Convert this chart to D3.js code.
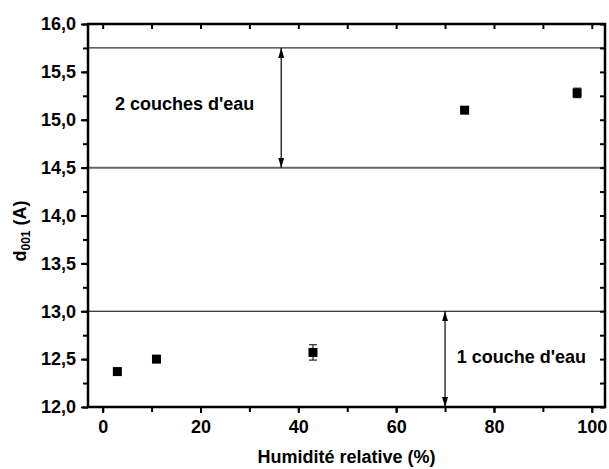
<!DOCTYPE html>
<html><head><meta charset="utf-8">
<script src="https://cdn.jsdelivr.net/npm/d3@7"></script>
<style>
html,body{margin:0;padding:0;background:#fff;}
svg text{font-family:"Liberation Sans",Arial,sans-serif !important;font-weight:700 !important;}
</style>
</head><body>
<svg id="chart" width="609" height="469"></svg>
<script>
const humidity = [3, 11, 43, 74, 97];
const d001 = [12.37, 12.50, 12.57, 15.10, 15.28];
const d001Err = [0.01, 0.03, 0.08, 0.01, 0.05];
const xTicks = [0, 20, 40, 60, 80, 100];
const yTicks = [12.0, 12.5, 13.0, 13.5, 14.0, 14.5, 15.0, 15.5, 16.0];
const refLines = [15.75, 14.5, 13.0];
const arrows = [{x: 36.5, y1: 15.75, y2: 14.5}, {x: 70, y1: 13.0, y2: 12.0}];
const notes = [{text: "2 couches d'eau", x: 2.5, y: 15.10}, {text: "1 couche d'eau", x: 72.4, y: 12.46}];

const L = 88, R = 605, T = 24, B = 407;
const FS = 18;
const svg = d3.select("#chart");
const x = d3.scaleLinear().domain([-3, 102.7]).range([L, R]);
const y = d3.scaleLinear().domain([12, 16]).range([B, T]);
const fmt = d => d3.format(".1f")(d).replace(".", ",");

const defs = svg.append("defs");
defs.append("marker").attr("id","ah").attr("viewBox","0 0 10 10")
  .attr("refX",10).attr("refY",5).attr("markerWidth",10).attr("markerHeight",10)
  .attr("markerUnits","userSpaceOnUse").attr("orient","auto-start-reverse")
  .append("path").attr("d","M0,2 L10,5 L0,8 Z").attr("fill","#000");

// reference lines
const lineColors = ["#333", "#666", "#000"];
const lineWidths = [1.2, 2, 1.2];
svg.selectAll(".ref").data(refLines).enter().append("line")
  .attr("x1", L).attr("x2", R).attr("y1", d => y(d)).attr("y2", d => y(d))
  .attr("stroke", (d,i) => lineColors[i]).attr("stroke-width", (d,i) => lineWidths[i]);

// arrows
svg.selectAll(".arr").data(arrows).enter().append("line")
  .attr("x1", d => x(d.x)).attr("x2", d => x(d.x))
  .attr("y1", d => y(d.y1)).attr("y2", d => y(d.y2))
  .attr("stroke", "#000").attr("stroke-width", 1.2)
  .attr("marker-start", "url(#ah)").attr("marker-end", "url(#ah)");

// notes
svg.selectAll(".note").data(notes).enter().append("text")
  .attr("x", d => x(d.x)).attr("y", d => y(d.y))
  .attr("font-size", FS).attr("font-weight", "bold").text(d => d.text);

const minorX = d3.range(0, 101, 10);
const minorY = d3.range(12, 16.001, 0.25);
function styleAxis(g) {
  g.select(".domain").remove();
  g.selectAll("line").attr("stroke-width", 2);
  g.selectAll("text").attr("font-size", FS).attr("font-weight", "bold").attr("fill", "#000");
  return g;
}
// bottom
styleAxis(svg.append("g").attr("transform", `translate(0,${B})`)
  .call(d3.axisBottom(x).tickValues(minorX).tickSize(5).tickFormat("")));
styleAxis(svg.append("g").attr("transform", `translate(0,${B})`)
  .call(d3.axisBottom(x).tickValues(xTicks).tickSize(6).tickPadding(7).tickFormat(d3.format("d"))));
// top (inward)
styleAxis(svg.append("g").attr("transform", `translate(0,${T})`)
  .call(d3.axisBottom(x).tickValues(minorX).tickSize(5).tickFormat("")));
// left
styleAxis(svg.append("g").attr("transform", `translate(${L},0)`)
  .call(d3.axisLeft(y).tickValues(minorY).tickSize(5).tickFormat("")));
styleAxis(svg.append("g").attr("transform", `translate(${L},0)`)
  .call(d3.axisLeft(y).tickValues(yTicks).tickSize(7).tickPadding(5).tickFormat(fmt)));
// right (inward)
styleAxis(svg.append("g").attr("transform", `translate(${R},0)`)
  .call(d3.axisLeft(y).tickValues(minorY).tickSize(5).tickFormat("")));

// frame
svg.append("rect").attr("x", L).attr("y", T).attr("width", R - L).attr("height", B - T)
  .attr("fill", "none").attr("stroke", "#000").attr("stroke-width", 2.5);

// error bars
const pts = humidity.map((h, i) => ({h, d: d001[i], e: d001Err[i]}));
const eb = svg.append("g").attr("stroke", "#000").attr("stroke-width", 1);
pts.forEach(p => {
  eb.append("line").attr("x1", x(p.h)).attr("x2", x(p.h)).attr("y1", y(p.d - p.e)).attr("y2", y(p.d + p.e));
  [p.d - p.e, p.d + p.e].forEach(v => eb.append("line")
    .attr("x1", x(p.h) - 4).attr("x2", x(p.h) + 4).attr("y1", y(v)).attr("y2", y(v)));
});
svg.selectAll(".pt").data(pts).enter().append("rect")
  .attr("x", d => x(d.h) - 4.5).attr("y", d => y(d.d) - 4.5)
  .attr("width", 9).attr("height", 9).attr("fill", "#000");

// axis titles
svg.append("text").attr("x", (L + R) / 2).attr("y", 463).attr("text-anchor", "middle")
  .attr("font-size", FS).attr("font-weight", "bold").text("Humidité relative (%)");
const yl = svg.append("text").attr("transform", "translate(26,231) rotate(-90)")
  .attr("text-anchor", "middle").attr("font-size", FS).attr("font-weight", "bold");
yl.append("tspan").text("d");
yl.append("tspan").attr("font-size", 12).attr("dy", 4).text("001");
yl.append("tspan").attr("dy", -4).text(" (A)");
</script>
</body></html>
